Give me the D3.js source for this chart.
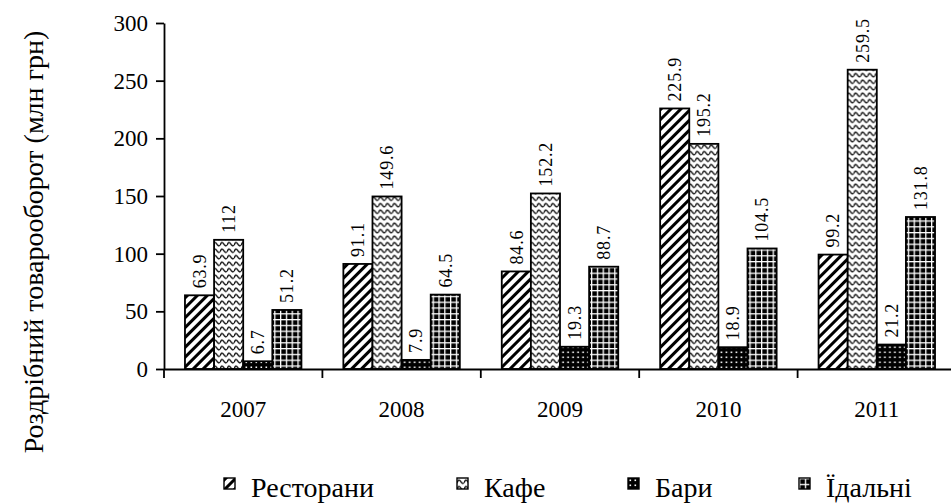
<!DOCTYPE html>
<html>
<head>
<meta charset="utf-8">
<script src="https://cdn.jsdelivr.net/npm/d3@7"></script>
<style>
  body { margin: 0; background: #fff; }
</style>
</head>
<body>
<div id="chart"></div>
<script>
// Chart data
const years = ["2007", "2008", "2009", "2010", "2011"];
const seriesNames = ["Ресторани", "Кафе", "Бари", "Їдальні"];
const restaurants = [63.9, 91.1, 84.6, 225.9, 99.2];
const cafes = [112, 149.6, 152.2, 195.2, 259.5];
const bars = [6.7, 7.9, 19.3, 18.9, 21.2];
const canteens = [51.2, 64.5, 88.7, 104.5, 131.8];
const yTicks = [0, 50, 100, 150, 200, 250, 300];
const yTitle = "Роздрібний товарооборот (млн грн)";

const seriesValues = [restaurants, cafes, bars, canteens];
const patternIds = ["p-rest", "p-cafe", "p-bar", "p-canteen"];
const FONT = "'Liberation Serif', 'DejaVu Serif', serif";

const width = 951, height = 503;

const svg = d3.select("#chart")
    .append("svg")
    .attr("width", width)
    .attr("height", height)
    .attr("font-family", FONT);

// Fill patterns
const defs = svg.append("defs");

// diagonal stripes
const pRest = defs.append("pattern")
    .attr("id", "p-rest")
    .attr("patternUnits", "userSpaceOnUse")
    .attr("width", 7).attr("height", 7)
    .attr("patternTransform", "rotate(45)");
pRest.append("rect").attr("width", 7).attr("height", 7).attr("fill", "#fff");
pRest.append("rect").attr("width", 3).attr("height", 7).attr("fill", "#000");

// wavy lines
const pCafe = defs.append("pattern")
    .attr("id", "p-cafe")
    .attr("patternUnits", "userSpaceOnUse")
    .attr("width", 7).attr("height", 6.5);
pCafe.append("rect").attr("width", 7).attr("height", 6.5).attr("fill", "#fff");
pCafe.append("path")
    .attr("d", "M0,4.8 Q1.75,0.2 3.5,3.2 T7,4.8")
    .attr("fill", "none")
    .attr("stroke", "#111")
    .attr("stroke-width", 1.4);

// dots on black
const pBar = defs.append("pattern")
    .attr("id", "p-bar")
    .attr("patternUnits", "userSpaceOnUse")
    .attr("width", 5).attr("height", 5);
pBar.append("rect").attr("width", 5).attr("height", 5).attr("fill", "#000");
pBar.append("rect").attr("x", 1.5).attr("y", 1.5).attr("width", 1.6).attr("height", 1.6).attr("fill", "#fff");

// white grid on black
const pCan = defs.append("pattern")
    .attr("id", "p-canteen")
    .attr("patternUnits", "userSpaceOnUse")
    .attr("width", 5.8).attr("height", 5.8);
pCan.append("rect").attr("width", 5.8).attr("height", 5.8).attr("fill", "#fff");
pCan.append("rect").attr("x", 1.3).attr("y", 1.3).attr("width", 4.5).attr("height", 4.5).attr("fill", "#000");

// Scales
const x0 = d3.scaleBand()
    .domain(years)
    .range([164, 956])
    .padding(0);

const x1 = d3.scaleBand()
    .domain(seriesNames)
    .range([0, x0.bandwidth()])
    .paddingInner(0)
    .paddingOuter(0.72);

const y = d3.scaleLinear()
    .domain([0, 300])
    .range([369, 23]);

// Bars
const groups = svg.append("g")
    .selectAll("g")
    .data(years)
    .join("g")
    .attr("transform", d => `translate(${x0(d)},0)`);

groups.selectAll("rect")
    .data((d, i) => seriesNames.map((s, k) => ({ key: s, value: seriesValues[k][i], pat: patternIds[k] })))
    .join("rect")
    .attr("x", d => x1(d.key))
    .attr("y", d => y(d.value))
    .attr("width", x1.bandwidth())
    .attr("height", d => y(0) - y(d.value))
    .attr("fill", d => `url(#${d.pat})`)
    .attr("stroke", "#000")
    .attr("stroke-width", 1.8);

// Value labels, rotated
groups.selectAll("text")
    .data((d, i) => seriesNames.map((s, k) => ({ key: s, value: seriesValues[k][i] })))
    .join("text")
    .attr("transform", d => `translate(${x1(d.key) + x1.bandwidth() / 2},${y(d.value) - 7}) rotate(-90)`)
    .attr("dy", "0.35em")
    .attr("text-anchor", "start")
    .attr("font-family", FONT)
    .attr("font-size", 18)
    .attr("letter-spacing", 0.8)
    .text(d => d.value);

// Y axis
const yAxis = svg.append("g")
    .attr("transform", "translate(164,0)")
    .call(d3.axisLeft(y).tickValues(yTicks).tickSize(8).tickPadding(8).tickSizeOuter(0))
    .attr("font-family", FONT)
    .attr("font-size", 23);
yAxis.select(".domain").attr("stroke-width", 1.8);
yAxis.selectAll(".tick line").attr("stroke-width", 1.8);

// X axis
const xAxis = svg.append("g")
    .attr("transform", `translate(0,${y(0)})`)
    .call(d3.axisBottom(x0).tickSize(0).tickPadding(32).tickSizeOuter(0))
    .attr("font-family", FONT)
    .attr("font-size", 23);
xAxis.select(".domain").attr("stroke-width", 1.8);

// category boundary ticks
svg.append("g")
    .selectAll("line")
    .data(years)
    .join("line")
    .attr("x1", d => x0(d))
    .attr("x2", d => x0(d))
    .attr("y1", y(0))
    .attr("y2", y(0) + 9)
    .attr("stroke", "#000")
    .attr("stroke-width", 1.8);

// Y title
svg.append("text")
    .attr("transform", "translate(33,242) rotate(-90)")
    .attr("dy", "0.35em")
    .attr("text-anchor", "middle")
    .attr("font-family", FONT)
    .attr("font-size", 28)
    .text(yTitle);

// Legend
const legendX = [224, 457, 628, 799];
const legend = svg.append("g")
    .selectAll("g")
    .data(seriesNames)
    .join("g")
    .attr("transform", (d, i) => `translate(${legendX[i]},478)`);

legend.append("rect")
    .attr("width", 11)
    .attr("height", 11)
    .attr("fill", (d, i) => `url(#${patternIds[i]})`)
    .attr("stroke", "#000")
    .attr("stroke-width", 1.4);

legend.append("text")
    .attr("x", 27)
    .attr("y", 18.5)
    .attr("font-family", FONT)
    .attr("font-size", 28)
    .text(d => d);
</script>
</body>
</html>
